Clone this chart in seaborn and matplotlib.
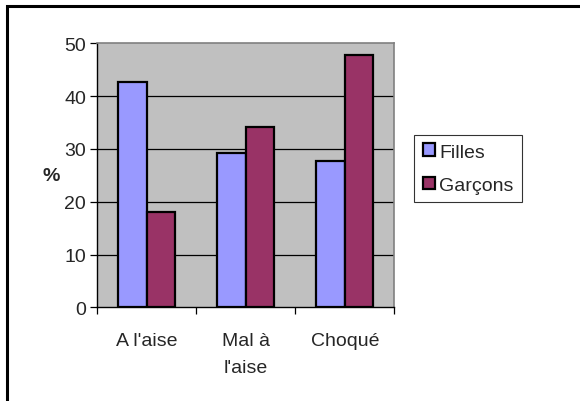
import matplotlib
matplotlib.use("Agg")
import matplotlib.pyplot as plt
from matplotlib.patches import Rectangle, Patch
import seaborn as sns
import pandas as pd

categories = ["A l'aise", "Mal à\nl'aise", "Choqué"]
series = ["Filles", "Garçons"]
filles = [42.7, 29.3, 27.8]
garcons = [18.0, 34.1, 47.8]
yticks = [0, 10, 20, 30, 40, 50]
colors = ["#9999FF", "#993366"]

df = pd.DataFrame({
    "categorie": categories * 2,
    "groupe": [series[0]] * 3 + [series[1]] * 3,
    "valeur": filles + garcons,
})

sns.set_theme(style="white")
plt.rcParams["font.family"] = ["Liberation Sans", "DejaVu Sans"]
fs = 14

fig = plt.figure(figsize=(5.8, 4.02), dpi=100)
ax = fig.add_axes([97.3 / 580, 1 - 308.3 / 402, (394.3 - 97.3) / 580, (308.3 - 44.3) / 402])

sns.barplot(data=df, x="categorie", y="valeur", hue="groupe", order=categories,
            hue_order=series, palette=colors, width=0.573, gap=0,
            edgecolor="black", linewidth=1.6, saturation=1, ax=ax, legend=False, zorder=3)

ax.set_facecolor("#C0C0C0")
ax.set_xlim(-0.5, 2.5)
ax.set_ylim(0, 50)
ax.set_yticks(yticks)
ax.set_yticklabels([str(t) for t in yticks], fontsize=fs)
for t in yticks[1:-1]:
    ax.axhline(t, color="black", linewidth=0.9, zorder=1)

ax.set_xticks([-0.5, 0.5, 1.5, 2.5], minor=False)
ax.set_xticklabels([])
ax.set_xticks([0, 1, 2], minor=True)
ax.set_xticklabels(categories, minor=True, fontsize=fs)
for lbl in ax.get_xticklabels(minor=True):
    lbl.set_linespacing(1.75)
ax.tick_params(axis="x", which="major", direction="out", length=5, width=0.9, color="black", bottom=True)
ax.tick_params(axis="x", which="minor", length=0, pad=18)
ax.tick_params(axis="y", direction="out", length=5, width=0.9, color="black", left=True, pad=3)

for side in ["top", "right"]:
    ax.spines[side].set_color("#808080")
    ax.spines[side].set_linewidth(1.2)
for side in ["left", "bottom"]:
    ax.spines[side].set_color("black")
    ax.spines[side].set_linewidth(1.0)

ax.set_xlabel("")
ax.set_ylabel("%", fontsize=fs, fontweight="bold", rotation=0, labelpad=0, va="center", ha="center")
ax.yaxis.set_label_coords(-0.155, 0.5)

handles = [Patch(facecolor=c, edgecolor="black", linewidth=1.6) for c in colors]
leg = fig.legend(handles, series, loc="upper left", bbox_to_anchor=(414 / 580, 1 - 135.7 / 402),
                 frameon=True, fancybox=False, fontsize=fs, handlelength=0.62, handleheight=0.62,
                 handletextpad=0.22, borderpad=0.45, labelspacing=0.82, borderaxespad=0)
leg.get_frame().set_edgecolor("black")
leg.get_frame().set_linewidth(0.8)

fig.patches.append(Rectangle((7.3 / 580, -0.1), 1.2, 1 - 6.5 / 402 + 0.1, transform=fig.transFigure,
                             fill=False, edgecolor="black", linewidth=2.2))

fig.savefig("out.png", dpi=100)
